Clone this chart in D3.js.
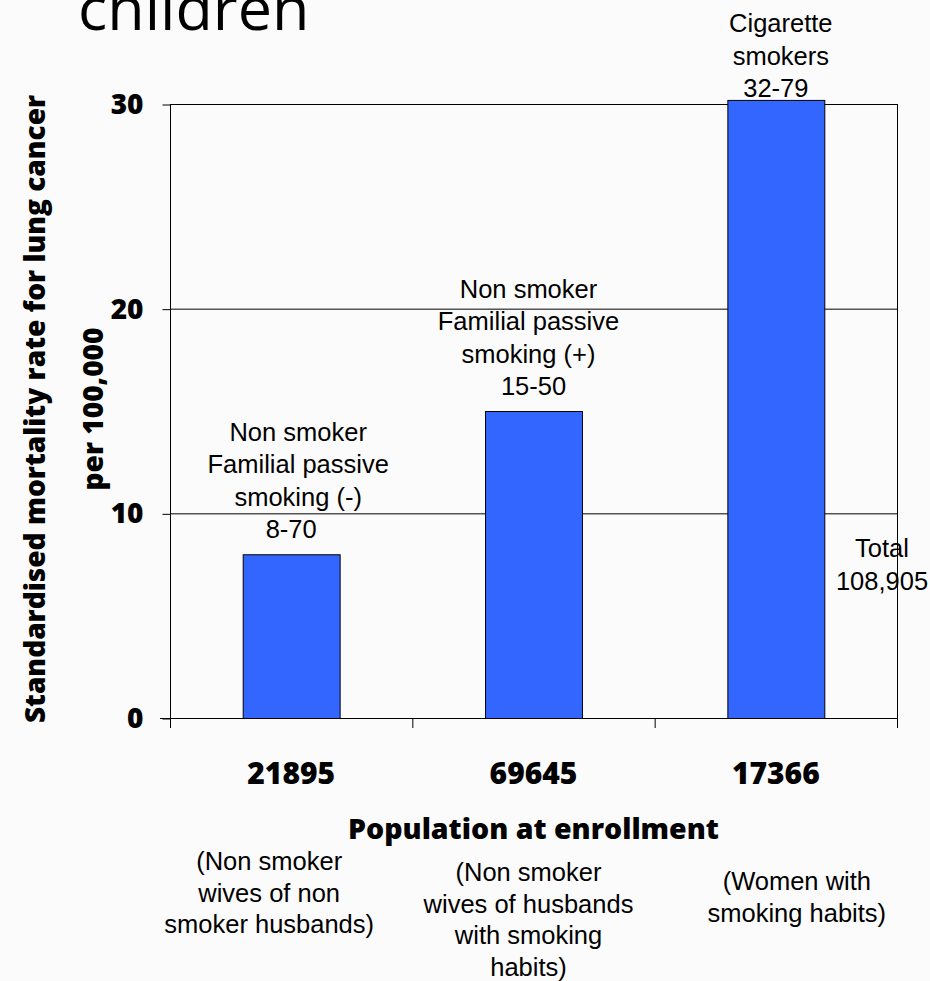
<!DOCTYPE html>
<html>
<head>
<meta charset="utf-8">
<script src="https://cdn.jsdelivr.net/npm/d3@7"></script>
<style>
  html, body { margin: 0; padding: 0; background: #fbfbfb; }
  svg { display: block; }
</style>
</head>
<body>
<svg id="chart" width="930" height="981"></svg>
<script>
// Population at enrollment for each group (category labels)
const categories = ["21895", "69645", "17366"];
// Standardised mortality rate for lung cancer per 100,000
const rates = [8, 15, 30.2];
// Text written above each bar
const barNotes = [
  ["Non smoker", "Familial passive", "smoking (-)", "8-70"],
  ["Non smoker", "Familial passive", "smoking (+)", "15-50"],
  ["Cigarette", "smokers", "32-79"]
];
// Group descriptions under the axis title
const groupNotes = [
  ["(Non smoker", "wives of non", "smoker husbands)"],
  ["(Non smoker", "wives of husbands", "with smoking", "habits)"],
  ["(Women with", "smoking habits)"]
];
const yTicks = [0, 10, 20, 30];
const totalNote = ["Total", "108,905"];
const titleText = "children";
const yTitle = ["Standardised mortality rate for lung cancer", "per 100,000"];
const xTitle = "Population at enrollment";

const svg = d3.select("#chart");
const plot = { left: 170, right: 897, top: 104, bottom: 718 };

const boldFont = "'Open Sans', 'Noto Sans', sans-serif";
const textFont = "'Liberation Sans', Arial, sans-serif";
const noteSize = 25.5;

// Text-box layout tweaks relative to each bar centre
const barNoteDx = [7, -5, 5];
const groupNoteDx = [-22, -5, 21];
const groupNoteTop = [870, 881, 890];

const x = d3.scaleBand()
  .domain(categories)
  .range([plot.left, plot.right])
  .paddingInner(0.6)
  .paddingOuter(0.3);

const y = d3.scaleLinear()
  .domain([0, 30])
  .range([plot.bottom, plot.top]);

const centre = c => x(c) + x.bandwidth() / 2;

// Heading fragment at the top
svg.append("text")
  .attr("x", 78).attr("y", 30)
  .attr("font-family", "'Open Sans', sans-serif")
  .attr("font-size", 61)
  .attr("fill", "#000")
  .text(titleText);

// Horizontal gridlines at the non-zero ticks
svg.append("g")
  .selectAll("line")
  .data(yTicks.filter(d => d > 0))
  .join("line")
  .attr("x1", plot.left).attr("x2", plot.right)
  .attr("y1", d => y(d) + 0.5).attr("y2", d => y(d) + 0.5)
  .attr("stroke", "#000").attr("stroke-width", 1);

// Right-hand edge of the plot area
svg.append("line")
  .attr("x1", plot.right + 0.5).attr("x2", plot.right + 0.5)
  .attr("y1", y(30)).attr("y2", y(0))
  .attr("stroke", "#000").attr("stroke-width", 1);

// Bars
svg.append("g")
  .selectAll("rect")
  .data(rates)
  .join("rect")
  .attr("x", (d, i) => x(categories[i]) + 0.5)
  .attr("y", d => y(d) + 0.5)
  .attr("width", x.bandwidth())
  .attr("height", d => y(0) - y(d))
  .attr("fill", "#3366ff")
  .attr("stroke", "#000")
  .attr("stroke-width", 1);

// Y axis
const yAxis = d3.axisLeft(y)
  .tickValues(yTicks)
  .tickSize(8)
  .tickPadding(19)
  .tickFormat(d3.format("d"));
const gy = svg.append("g")
  .attr("transform", `translate(${plot.left + 0.5},0.5)`)
  .call(yAxis);
gy.select(".domain").attr("stroke", "#000").attr("d", `M0,${y(30)}V${y(0)}`);
gy.selectAll(".tick line").attr("stroke", "#000");
gy.selectAll(".tick text")
  .attr("font-family", boldFont)
  .attr("font-weight", 800)
  .attr("font-size", 28)
  .attr("fill", "#000");

// X axis line with ticks at category boundaries
const step = x.step();
const bounds = categories.map(c => x(c) - step * x.paddingInner() / 2).concat([plot.right]);
svg.append("line")
  .attr("x1", plot.left - 10).attr("x2", plot.right)
  .attr("y1", y(0) + 0.5).attr("y2", y(0) + 0.5)
  .attr("stroke", "#000");
svg.append("g")
  .selectAll("line")
  .data(bounds)
  .join("line")
  .attr("x1", d => d + 0.5).attr("x2", d => d + 0.5)
  .attr("y1", y(0)).attr("y2", y(0) + 10)
  .attr("stroke", "#000");

// Category labels
svg.append("g")
  .selectAll("text")
  .data(categories)
  .join("text")
  .attr("x", d => centre(d))
  .attr("y", y(0) + 66)
  .attr("text-anchor", "middle")
  .attr("font-family", boldFont)
  .attr("font-weight", 800)
  .attr("font-size", 30)
  .attr("fill", "#000")
  .text(d => d);

// Notes above bars: stacked lines ending just above the bar,
// kept inside the top edge of the chart
const lineH = 32.5;
barNotes.forEach((lines, i) => {
  const cx = centre(categories[i]) + barNoteDx[i];
  const last = y(rates[i]) - 16;
  const first = Math.max(last - (lines.length - 1) * lineH, 32);
  const t = svg.append("text")
    .attr("text-anchor", "middle")
    .attr("font-family", textFont)
    .attr("font-size", noteSize)
    .attr("fill", "#000");
  lines.forEach((ln, j) => {
    // the value line sits on the bar centre
    const lx = j === lines.length - 1 ? centre(categories[i]) : cx;
    t.append("tspan").attr("x", lx).attr("y", first + j * lineH).text(ln);
  });
});

// Total note on the right
const tt = svg.append("text")
  .attr("text-anchor", "middle")
  .attr("font-family", textFont)
  .attr("font-size", noteSize)
  .attr("fill", "#000");
totalNote.forEach((ln, j) => {
  tt.append("tspan").attr("x", 882).attr("y", 557 + j * 33).text(ln);
});

// Y axis title (two lines, rotated)
const yt = svg.append("text")
  .attr("transform", `translate(0,409) rotate(-90)`)
  .attr("text-anchor", "middle")
  .attr("font-family", boldFont)
  .attr("font-weight", 800)
  .attr("font-size", 28)
  .attr("fill", "#000");
yTitle.forEach((ln, j) => {
  yt.append("tspan").attr("x", 0).attr("y", 45 + j * 58).text(ln);
});

// X axis title
svg.append("text")
  .attr("x", (plot.left + plot.right) / 2)
  .attr("y", 839)
  .attr("text-anchor", "middle")
  .attr("font-family", boldFont)
  .attr("font-weight", 800)
  .attr("font-size", 28.5)
  .attr("fill", "#000")
  .text(xTitle);

// Group descriptions
groupNotes.forEach((lines, i) => {
  const cx = centre(categories[i]) + groupNoteDx[i];
  const t = svg.append("text")
    .attr("text-anchor", "middle")
    .attr("font-family", textFont)
    .attr("font-size", noteSize)
    .attr("fill", "#000");
  lines.forEach((ln, j) => {
    t.append("tspan").attr("x", cx).attr("y", groupNoteTop[i] + j * 31.5).text(ln);
  });
});
</script>
</body>
</html>
